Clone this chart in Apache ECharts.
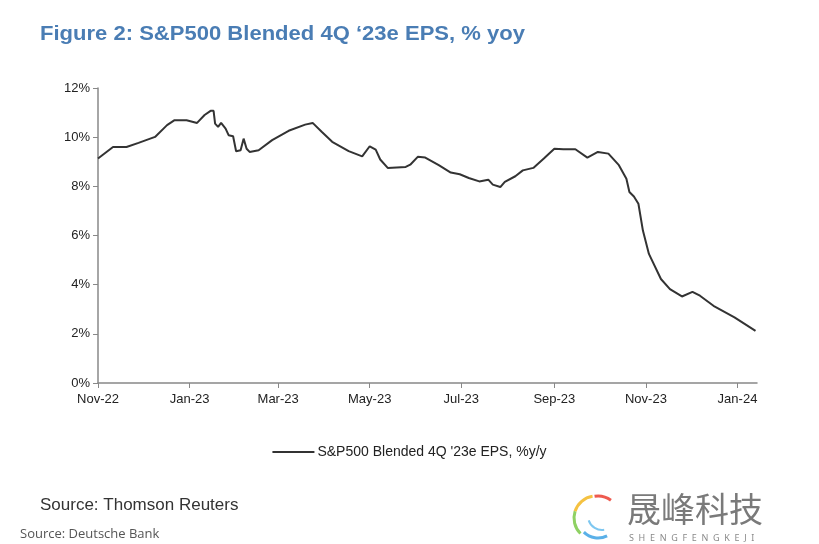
<!DOCTYPE html>
<html>
<head>
<meta charset="utf-8">
<script src="https://cdn.jsdelivr.net/npm/echarts@6/dist/echarts.min.js"></script>
<style>
html,body{margin:0;padding:0;background:#fff;}
#chart{width:819px;height:544px;}
</style>
</head>
<body>
<div id="chart"></div>
<script>
// ---- data ----
const dates = [
 '2022-11-01','2022-11-11','2022-11-20','2022-11-28','2022-12-09','2022-12-17','2022-12-22','2022-12-30',
 '2023-01-06','2023-01-11','2023-01-15','2023-01-17','2023-01-18','2023-01-20','2023-01-22','2023-01-25',
 '2023-01-27','2023-01-30','2023-02-01','2023-02-04','2023-02-06','2023-02-08','2023-02-10','2023-02-16',
 '2023-02-25','2023-03-08','2023-03-19','2023-03-24','2023-03-30','2023-04-06','2023-04-17','2023-04-26',
 '2023-05-01','2023-05-05','2023-05-08','2023-05-13','2023-05-25','2023-05-28','2023-06-02','2023-06-07',
 '2023-06-16','2023-06-24','2023-06-30','2023-07-06','2023-07-13','2023-07-19','2023-07-22','2023-07-27',
 '2023-07-30','2023-08-06','2023-08-11','2023-08-18','2023-08-25','2023-09-01','2023-09-07','2023-09-15',
 '2023-09-23','2023-09-30','2023-10-07','2023-10-14','2023-10-19','2023-10-21','2023-10-24','2023-10-27',
 '2023-10-30','2023-11-03','2023-11-11','2023-11-17','2023-11-25','2023-12-02','2023-12-07','2023-12-16',
 '2023-12-30','2024-01-13'
];
const values = [
 9.13, 9.60, 9.60, 9.77, 10.01, 10.49, 10.69, 10.69,
 10.58, 10.90, 11.07, 11.07, 10.55, 10.42, 10.58, 10.35,
 10.08, 10.04, 9.43, 9.47, 9.94, 9.53, 9.40, 9.47,
 9.88, 10.26, 10.51, 10.58, 10.22, 9.81, 9.43, 9.22,
 9.63, 9.49, 9.09, 8.75, 8.79, 8.88, 9.20, 9.17,
 8.86, 8.56, 8.49, 8.34, 8.20, 8.27, 8.07, 7.97,
 8.18, 8.41, 8.65, 8.75, 9.13, 9.53, 9.51, 9.51,
 9.17, 9.40, 9.33, 8.86, 8.31, 7.77, 7.59, 7.29,
 6.20, 5.25, 4.23, 3.82, 3.52, 3.71, 3.55, 3.14,
 2.67, 2.12
];
const tickDates = ['2022-11-01','2023-01-01','2023-03-01','2023-05-01','2023-07-01','2023-09-01','2023-11-01','2024-01-01'];
const tickLabels = ['Nov-22','Jan-23','Mar-23','May-23','Jul-23','Sep-23','Nov-23','Jan-24'];
const axisStart = '2022-11-01';
const axisEnd = '2024-01-14';
const seriesName = "S&P500 Blended 4Q '23e EPS, %y/y";

// ---- build daily category axis ----
const cats = [];
{
  let t = Date.parse(axisStart + 'T00:00:00Z');
  const tEnd = Date.parse(axisEnd + 'T00:00:00Z');
  while (t <= tEnd) { cats.push(new Date(t).toISOString().slice(0,10)); t += 86400000; }
}
const seriesData = dates.map((d,i)=>[d, values[i]]);
const isTick = (idx, val) => tickDates.indexOf(val) >= 0;
const FONT = 'Liberation Sans, Arial, sans-serif';

const chart = echarts.init(document.getElementById('chart'), null, {renderer:'canvas'});
chart.setOption({
  animation:false,
  backgroundColor:'#fff',
  grid:{left:98, right:62, top:88, bottom:161},
  legend:{
    data:[seriesName],
    left:'center', top:440,
    itemWidth:42, itemHeight:2, itemGap:4,
    icon:'rect',
    textStyle:{fontFamily:FONT, fontSize:14, color:'#222', padding:[0,0,0,-2]}
  },
  xAxis:{
    type:'category',
    data:cats,
    boundaryGap:false,
    axisLine:{lineStyle:{color:'#888', width:1.5}},
    axisTick:{interval:isTick, length:5, lineStyle:{color:'#888'}},
    axisLabel:{
      interval:isTick, margin:10,
      formatter:(v)=>{const i=tickDates.indexOf(v); return i>=0?tickLabels[i]:'';},
      fontFamily:FONT, fontSize:13, color:'#222'
    },
    splitLine:{show:false}
  },
  yAxis:{
    type:'value', min:0, max:12, interval:2,
    axisLine:{show:true, lineStyle:{color:'#888', width:1.5}},
    axisTick:{show:true, length:5, lineStyle:{color:'#888'}},
    axisLabel:{formatter:'{value}%', fontFamily:FONT, fontSize:13, color:'#222', margin:8},
    splitLine:{show:false}
  },
  series:[{
    name:seriesName,
    type:'line',
    data:seriesData,
    showSymbol:false,
    lineStyle:{color:'#333', width:2},
    itemStyle:{color:'#333'}
  }],
  graphic:[
    {type:'text', x:40, y:25, scaleX:1.13, style:{text:'Figure 2: S&P500 Blended 4Q \u201823e EPS, % yoy', font:'bold 19.5px Liberation Sans, Arial, sans-serif', fill:'#4a7db4'}},
    {type:'text', left:40, top:497, style:{text:'Source: Thomson Reuters', font:'17px Liberation Sans, Arial, sans-serif', fill:'#333'}},
    {type:'text', left:20, top:528, style:{text:'Source: Deutsche Bank', font:'13px Open Sans, Noto Sans, sans-serif', fill:'#555'}},
    {type:'text', left:627, top:492, style:{text:'晟峰科技', font:'34px Noto Sans CJK SC, sans-serif', fill:'#7a7a7a'}},
    {type:'text', left:629, top:534, style:{text:'S  H  E  N  G  F  E  N  G  K  E  J  I', font:'9px Noto Sans, sans-serif', fill:'#8a8a8a'}},
    {type:'arc', shape:{cx:596, cy:518, r:22, startAngle:-Math.PI*0.55, endAngle:-Math.PI*0.9, clockwise:false}, style:{stroke:'#f5c242', lineWidth:3, fill:null}},
    {type:'arc', shape:{cx:598, cy:518, r:22, startAngle:-Math.PI*0.3, endAngle:-Math.PI*0.55, clockwise:false}, style:{stroke:'#ee5a4f', lineWidth:3, fill:null}},
    {type:'arc', shape:{cx:596, cy:518, r:22, startAngle:Math.PI*1.1, endAngle:Math.PI*0.75, clockwise:false}, style:{stroke:'#8fd163', lineWidth:3, fill:null}},
    {type:'arc', shape:{cx:598, cy:518, r:20, startAngle:Math.PI*0.75, endAngle:Math.PI*0.35, clockwise:false}, style:{stroke:'#5ab0e8', lineWidth:3, fill:null}},
    {type:'arc', shape:{cx:602, cy:516, r:14, startAngle:Math.PI*0.9, endAngle:Math.PI*0.45, clockwise:false}, style:{stroke:'#7ec7f0', lineWidth:2, fill:null}}
  ]
});
</script>
</body>
</html>
